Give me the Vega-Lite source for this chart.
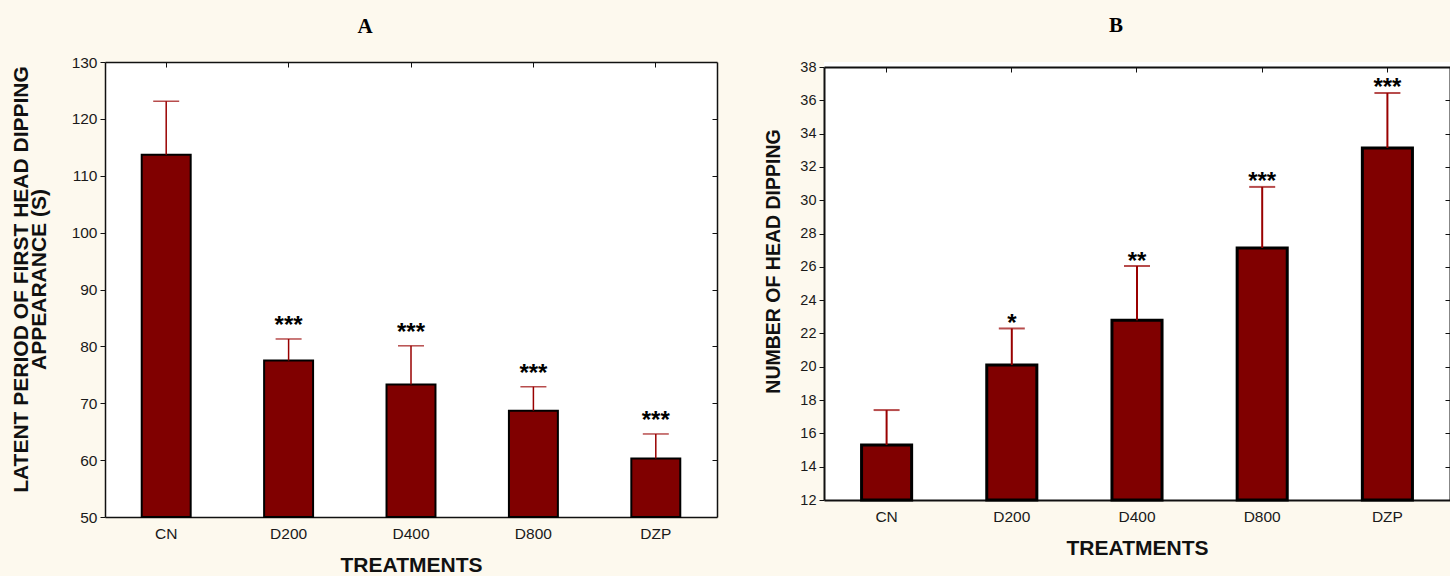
{
  "$schema": "https://vega.github.io/schema/vega-lite/v6.json",
  "background": "#fdf9ee",
  "padding": {"left": 10, "top": 15, "right": 0, "bottom": 0},
  "columns": 2,
  "align": "none",
  "spacing": 45,
  "config": {
    "font": "Liberation Sans",
    "view": {"stroke": null, "fill": "white"},
    "axis": {
      "labelFont": "Liberation Sans",
      "labelColor": "#1a1a1a",
      "titleFont": "Liberation Sans",
      "titleFontWeight": "bold",
      "titleColor": "#111111",
      "domainColor": "#111111",
      "tickColor": "#111111",
      "grid": false
    },
    "title": {"font": "Liberation Serif", "fontSize": 21, "fontWeight": "bold", "color": "#000000"}
  },
  "concat": [
    {
      "title": {"text": "A", "dx": -46, "offset": 18},
      "width": 612,
      "height": 455,
      "data": {
        "values": [
          {"treatment": "CN", "mean": 113.7, "upper": 123.1, "sig": ""},
          {"treatment": "D200", "mean": 77.5, "upper": 81.3, "sig": "***"},
          {"treatment": "D400", "mean": 73.3, "upper": 80.1, "sig": "***"},
          {"treatment": "D800", "mean": 68.7, "upper": 72.9, "sig": "***"},
          {"treatment": "DZP", "mean": 60.3, "upper": 64.6, "sig": "***"}
        ]
      },
      "layer": [
        {
          "mark": {"type": "bar", "fill": "#800000", "stroke": "#000000", "strokeWidth": 2},
          "encoding": {
            "x": {
              "field": "treatment", "type": "nominal", "sort": null,
              "scale": {"paddingInner": 0.6, "paddingOuter": 0.3},
              "axis": {"orient": "bottom", "labelAngle": 0, "labelFontSize": 15.5, "tickSize": -5, "labelPadding": 14,
                       "domainWidth": 1.5, "title": "TREATMENTS", "titleFontSize": 21, "titlePadding": 13}
            },
            "y": {
              "field": "mean", "type": "quantitative",
              "scale": {"domain": [50, 130], "zero": false, "nice": false},
              "axis": {"orient": "left", "values": [50, 60, 70, 80, 90, 100, 110, 120, 130], "labelFontSize": 15.5,
                       "tickSize": 5, "labelPadding": 3, "domainWidth": 1.5,
                       "title": ["LATENT PERIOD OF FIRST HEAD DIPPING", "APPEARANCE (S)"],
                       "titleFontSize": 21, "titleLineHeight": 18, "titlePadding": 22, "titleY": 217}
            },
            "y2": {"datum": 50}
          }
        },
        {
          "mark": {"type": "rule", "color": "#990000", "strokeWidth": 1.5},
          "encoding": {
            "x": {"field": "treatment", "type": "nominal", "sort": null,
                  "axis": {"orient": "top", "labels": false, "tickSize": -5, "domainWidth": 1.5, "title": null}},
            "y": {"field": "mean", "type": "quantitative",
                  "axis": {"orient": "right", "labels": false, "tickSize": -5, "domainWidth": 1.5, "title": null,
                           "values": [60, 70, 80, 90, 100, 110, 120]}},
            "y2": {"field": "upper"}
          }
        },
        {
          "mark": {"type": "tick", "color": "#990000", "size": 26, "thickness": 1.5},
          "encoding": {
            "x": {"field": "treatment", "type": "nominal", "sort": null, "axis": null},
            "y": {"field": "upper", "type": "quantitative", "axis": null}
          }
        },
        {
          "mark": {"type": "text", "fontSize": 24, "fontWeight": "bold", "baseline": "alphabetic", "dy": -6, "color": "#000000"},
          "encoding": {
            "x": {"field": "treatment", "type": "nominal", "sort": null, "axis": null},
            "y": {"field": "upper", "type": "quantitative", "axis": null},
            "text": {"field": "sig"}
          }
        }
      ],
      "resolve": {"axis": {"x": "independent", "y": "independent"}}
    },
    {
      "title": {"text": "B", "dx": -21, "offset": 23},
      "width": 626,
      "height": 438,
      "data": {
        "values": [
          {"treatment": "CN", "mean": 15.3, "upper": 17.4, "sig": ""},
          {"treatment": "D200", "mean": 20.1, "upper": 22.3, "sig": "*"},
          {"treatment": "D400", "mean": 22.8, "upper": 26.05, "sig": "**"},
          {"treatment": "D800", "mean": 27.13, "upper": 30.8, "sig": "***"},
          {"treatment": "DZP", "mean": 33.14, "upper": 36.44, "sig": "***"}
        ]
      },
      "layer": [
        {
          "mark": {"type": "bar", "fill": "#800000", "stroke": "#000000", "strokeWidth": 3},
          "encoding": {
            "x": {
              "field": "treatment", "type": "nominal", "sort": null,
              "scale": {"paddingInner": 0.6, "paddingOuter": 0.3},
              "axis": {"orient": "bottom", "labelAngle": 0, "labelFontSize": 15.5, "tickSize": -5, "labelPadding": 14,
                       "domainWidth": 2, "title": "TREATMENTS", "titleFontSize": 21, "titlePadding": 13}
            },
            "y": {
              "field": "mean", "type": "quantitative",
              "scale": {"domain": [12, 38], "zero": false, "nice": false, "range": [438, 5]},
              "axis": {"orient": "left", "values": [12, 14, 16, 18, 20, 22, 24, 26, 28, 30, 32, 34, 36, 38],
                       "labelFontSize": 14.5, "tickSize": 5, "labelPadding": 3, "domainWidth": 2,
                       "title": "NUMBER OF HEAD DIPPING", "titleFontSize": 19.5, "titlePadding": 16, "titleY": 199}
            },
            "y2": {"datum": 12}
          }
        },
        {
          "mark": {"type": "rule", "color": "#990000", "strokeWidth": 2},
          "encoding": {
            "x": {"field": "treatment", "type": "nominal", "sort": null,
                  "axis": {"orient": "top", "labels": false, "tickSize": -5, "domainWidth": 2, "title": null, "offset": -5}},
            "y": {"field": "mean", "type": "quantitative",
                  "axis": {"orient": "right", "labels": false, "tickSize": -5, "domainWidth": 2, "title": null,
                           "values": [14, 16, 18, 20, 22, 24, 26, 28, 30, 32, 34, 36]}},
            "y2": {"field": "upper"}
          }
        },
        {
          "mark": {"type": "tick", "color": "#990000", "size": 26, "thickness": 2},
          "encoding": {
            "x": {"field": "treatment", "type": "nominal", "sort": null, "axis": null},
            "y": {"field": "upper", "type": "quantitative", "axis": null}
          }
        },
        {
          "mark": {"type": "text", "fontSize": 24, "fontWeight": "bold", "baseline": "alphabetic", "dy": 2.5, "color": "#000000"},
          "encoding": {
            "x": {"field": "treatment", "type": "nominal", "sort": null, "axis": null},
            "y": {"field": "upper", "type": "quantitative", "axis": null},
            "text": {"field": "sig"}
          }
        }
      ],
      "resolve": {"axis": {"x": "independent", "y": "independent"}}
    }
  ]
}
